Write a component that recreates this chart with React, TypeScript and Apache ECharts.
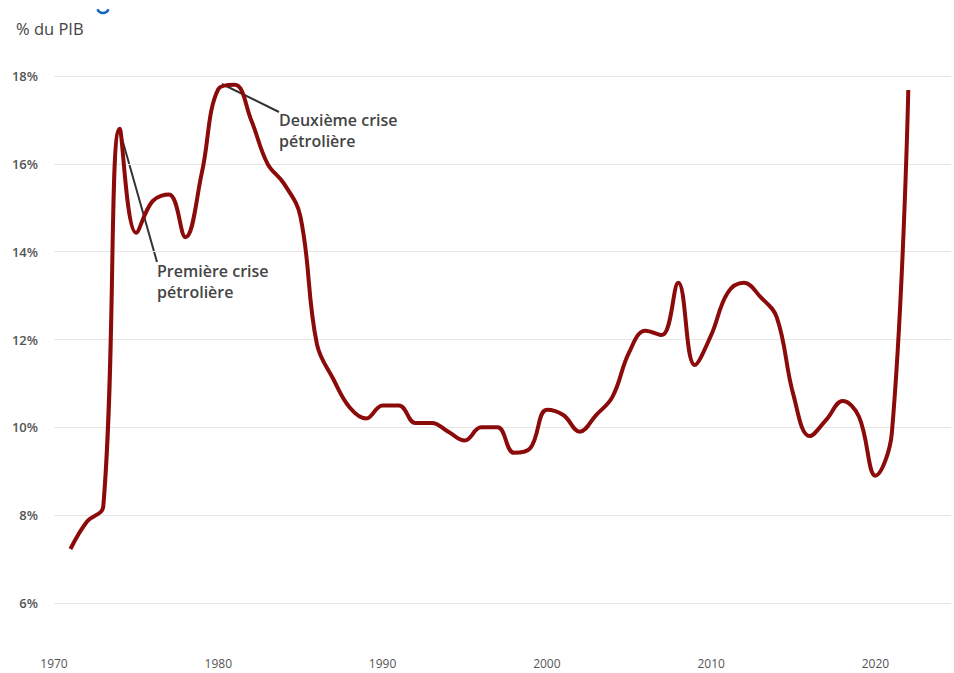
import React, { useEffect, useRef } from "react";
import * as echarts from "echarts";

const years = [
  1971, 1972, 1973, 1974, 1975, 1976, 1977, 1978, 1979, 1980,
  1981, 1982, 1983, 1984, 1985, 1986, 1987, 1988, 1989, 1990,
  1991, 1992, 1993, 1994, 1995, 1996, 1997, 1998, 1999, 2000,
  2001, 2002, 2003, 2004, 2005, 2006, 2007, 2008, 2009, 2010,
  2011, 2012, 2013, 2014, 2015, 2016, 2017, 2018, 2019, 2020,
  2021, 2022,
];

const values = [
  7.23, 7.85, 8.2, 16.8, 14.43, 15.15, 15.3, 14.33, 15.8, 17.7,
  17.8, 17.0, 16.0, 15.55, 14.8, 11.9, 11.1, 10.45, 10.2, 10.5,
  10.5, 10.1, 10.1, 9.9, 9.7, 10.0, 10.0, 9.42, 9.53, 10.4,
  10.28, 9.9, 10.28, 10.7, 11.7, 12.2, 12.1, 13.29, 11.42, 12.1,
  13.06, 13.29, 12.97, 12.5, 10.75, 9.8, 10.17, 10.6, 10.24, 8.9,
  9.87, 17.68,
];

const yTicks = [6, 8, 10, 12, 14, 16, 18];
const unitLabel = "% du PIB";
const annotations = [
  { lines: ["Deuxième crise", "pétrolière"] },
  { lines: ["Première crise", "pétrolière"] },
];

export default function App() {
  const ref = useRef<HTMLDivElement>(null);

  useEffect(() => {
    if (!ref.current) return;
    const chart = echarts.init(ref.current, undefined, { renderer: "svg" });
    const font = "'Open Sans', 'Noto Sans', sans-serif";
    const textColor = "#444";
    chart.setOption({
      animation: false,
      grid: { left: 54, right: 0, top: 76, bottom: 70, containLabel: false },
      xAxis: {
        type: "value",
        min: 1970,
        max: 2024.6,
        interval: 10,
        axisLine: { show: false },
        axisTick: { show: false },
        splitLine: { show: false },
        axisLabel: {
          margin: 54,
          color: "#555",
          fontSize: 12,
          fontFamily: font,
          formatter: (v: number) => (v % 10 === 0 && v <= 2020 ? String(v) : ""),
        },
      },
      yAxis: {
        type: "value",
        min: yTicks[0],
        max: yTicks[yTicks.length - 1],
        interval: 2,
        axisLine: { show: false },
        axisTick: { show: false },
        splitLine: { lineStyle: { color: "#e6e6e6", width: 1 } },
        axisLabel: {
          margin: 16,
          color: "#555",
          fontSize: 13,
          fontWeight: 600,
          fontFamily: font,
          formatter: "{value}%",
        },
      },
      series: [
        {
          type: "line",
          data: years.map((y, i) => [y, values[i]]),
          smooth: 0.4,
          showSymbol: false,
          lineStyle: { color: "#8b0a0a", width: 4 },
          itemStyle: { color: "#8b0a0a" },
        },
      ],
      graphic: [
        {
          type: "arc",
          shape: { cx: 103, cy: 7, r: 6, startAngle: 0.4, endAngle: 2.75 },
          style: { stroke: "#1565c0", lineWidth: 2.5, fill: "none" },
        },
        {
          type: "text",
          x: 16,
          y: 28,
          style: {
            text: unitLabel,
            fill: textColor,
            font: `16.5px ${font}`,
            verticalAlign: "middle",
          },
        },
        {
          type: "line",
          shape: { x1: 222, y1: 84, x2: 279, y2: 112 },
          style: { stroke: "#333", lineWidth: 2 },
        },
        {
          type: "text",
          x: 279,
          y: 109.5,
          style: {
            text: annotations[0].lines.join("\n"),
            fill: textColor,
            font: `600 16px ${font}`,
            lineHeight: 21,
            verticalAlign: "top",
          },
        },
        {
          type: "line",
          shape: { x1: 119, y1: 128, x2: 157, y2: 262 },
          style: { stroke: "#333", lineWidth: 2 },
        },
        {
          type: "text",
          x: 157,
          y: 260.5,
          style: {
            text: annotations[1].lines.join("\n"),
            fill: textColor,
            font: `600 16px ${font}`,
            lineHeight: 21,
            verticalAlign: "top",
          },
        },
      ],
    });
    return () => chart.dispose();
  }, []);

  return (
    <div
      ref={ref}
      style={{ position: "fixed", left: 0, top: 0, width: 954, height: 673, background: "#fff" }}
    />
  );
}
